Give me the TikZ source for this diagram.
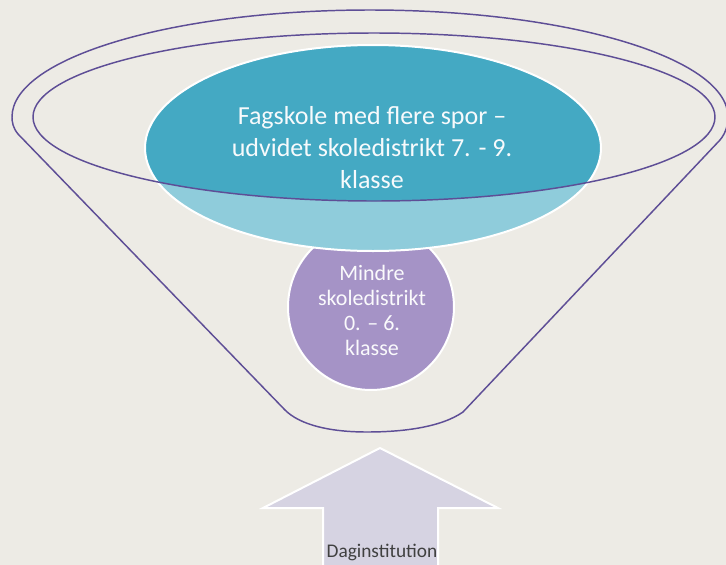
\documentclass[tikz,border=0pt]{standalone}
\usepackage{fontspec}
\setmainfont{Carlito}

\tikzset{every picture/.style={line width=0.75pt}}

\begin{document}
\begin{tikzpicture}[x=0.75pt,y=0.75pt,yscale=-1,xscale=1]
%set diagram left start at 0, and has height of 565
\useasboundingbox (0,0) rectangle (726,565);
\fill [color={rgb, 255:red, 237; green, 235; blue, 229 }] (0,0) rectangle (726,565);
\clip (0,0) rectangle (726,565);

%Shape: Circle [id:dp3318] 
\draw  [color={rgb, 255:red, 255; green, 255; blue, 255 }  ,draw opacity=1 ][fill={rgb, 255:red, 165; green, 147; blue, 198 }  ,fill opacity=1 ][line width=1.5]  (288,307) .. controls (288,261.2) and (325.2,224) .. (371,224) .. controls (416.8,224) and (454,261.2) .. (454,307) .. controls (454,352.8) and (416.8,390) .. (371,390) .. controls (325.2,390) and (288,352.8) .. (288,307) -- cycle ;

%Shape: Ellipse [id:dp7741] 
\fill  [color={rgb, 255:red, 143; green, 204; blue, 219 }]  (145,148) .. controls (145,91.1) and (247.1,45) .. (373,45) .. controls (498.9,45) and (601,91.1) .. (601,148) .. controls (601,204.9) and (498.9,251) .. (373,251) .. controls (247.1,251) and (145,204.9) .. (145,148) -- cycle ;
\begin{scope}
\clip (33,117) .. controls (33,70.6) and (185.7,33) .. (374,33) .. controls (562.3,33) and (715,70.6) .. (715,117) .. controls (715,163.4) and (562.3,201) .. (374,201) .. controls (185.7,201) and (33,163.4) .. (33,117) -- cycle ;
\fill  [color={rgb, 255:red, 68; green, 169; blue, 195 }]  (145,148) .. controls (145,91.1) and (247.1,45) .. (373,45) .. controls (498.9,45) and (601,91.1) .. (601,148) .. controls (601,204.9) and (498.9,251) .. (373,251) .. controls (247.1,251) and (145,204.9) .. (145,148) -- cycle ;
\end{scope}
\draw  [color={rgb, 255:red, 255; green, 255; blue, 255 }  ,draw opacity=1 ][line width=1.5]  (145,148) .. controls (145,91.1) and (247.1,45) .. (373,45) .. controls (498.9,45) and (601,91.1) .. (601,148) .. controls (601,204.9) and (498.9,251) .. (373,251) .. controls (247.1,251) and (145,204.9) .. (145,148) -- cycle ;

%Shape: Ellipse [id:dp5126] 
\draw  [color={rgb, 255:red, 94; green, 78; blue, 150 }  ,draw opacity=1 ][line width=1.1]  (33,117) .. controls (33,70.6) and (185.7,33) .. (374,33) .. controls (562.3,33) and (715,70.6) .. (715,117) .. controls (715,163.4) and (562.3,201) .. (374,201) .. controls (185.7,201) and (33,163.4) .. (33,117) -- cycle ;

%Shape: Polygon Curved [id:ds2087] 
\draw  [color={rgb, 255:red, 94; green, 78; blue, 150 }  ,draw opacity=1 ][line width=1.1]  (285,410) -- (18,134) .. controls (13,128) and (12,122) .. (12,117) .. controls (12,58) and (172,10) .. (370,10) .. controls (568,10) and (728,58) .. (728,117) .. controls (728,126) and (725,134) .. (720,140) -- (463,412) .. controls (440,428) and (400,432) .. (367,432) .. controls (330,432) and (300,425) .. (285,410) -- cycle ;

%Up Arrow [id:dp9403] 
\draw  [color={rgb, 255:red, 255; green, 255; blue, 255 }  ,draw opacity=1 ][fill={rgb, 255:red, 214; green, 211; blue, 226 }  ,fill opacity=1 ][line width=1.5]  (380,448) -- (498,508) -- (438,508) -- (438,580) -- (323,580) -- (323,508) -- (263,508) -- cycle ;

% Text Node
\draw (372,148) node (fagskole) [font={\fontsize{19.5}{24}\selectfont}] [align=center] {\textcolor[rgb]{0.97,0.98,0.99}{Fagskole med flere spor –}\\\textcolor[rgb]{0.97,0.98,0.99}{udvidet skoledistrikt 7. - 9.}\\\textcolor[rgb]{0.97,0.98,0.99}{klasse}};
% Text Node
\draw (372,310) node (mindre) [font={\fontsize{16.5}{18.75}\selectfont}] [align=center] {\textcolor[rgb]{0.98,0.98,0.99}{Mindre}\\\textcolor[rgb]{0.98,0.98,0.99}{skoledistrikt}\\\textcolor[rgb]{0.98,0.98,0.99}{0. – 6.}\\\textcolor[rgb]{0.98,0.98,0.99}{klasse}};
% Text Node
\draw (382,552) node (dagi) [font={\fontsize{14.5}{16}\selectfont}] [align=center] {\textcolor[rgb]{0.25,0.25,0.25}{Daginstitution}};

\end{tikzpicture}
\end{document}
